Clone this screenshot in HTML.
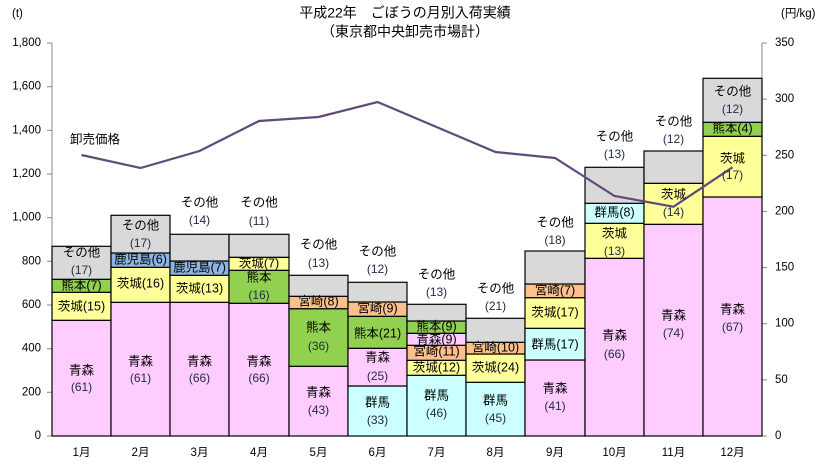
<!DOCTYPE html>
<html><head><meta charset="utf-8"><style>
body{margin:0;background:#fff}
svg text{font-family:"Liberation Sans","Noto Sans CJK JP",sans-serif;fill:#000}
.t{font-size:12.5px;text-anchor:middle;dominant-baseline:middle}
.n{font-size:12px;text-anchor:middle;dominant-baseline:middle;fill:#1f2a44}
.ax{font-size:11.5px;dominant-baseline:middle}
</style></head><body>
<svg width="818" height="462" xmlns="http://www.w3.org/2000/svg">
<text x="405" y="14" class="t" style="font-size:14px">平成22年　ごぼうの月別入荷実績</text>
<text x="405" y="33" class="t" style="font-size:14px">（東京都中央卸売市場計）</text>
<text x="12" y="14" class="ax">(t)</text>
<text x="781" y="14" class="ax">(円/kg)</text>
<g stroke="#888" stroke-width="1">
<line x1="52" y1="43" x2="52" y2="436"/><line x1="762" y1="43" x2="762" y2="436"/>
<line x1="52" y1="436" x2="762" y2="436"/>
<line x1="47" y1="43" x2="52" y2="43"/><line x1="47" y1="86.7" x2="52" y2="86.7"/><line x1="47" y1="130.3" x2="52" y2="130.3"/><line x1="47" y1="174" x2="52" y2="174"/><line x1="47" y1="217.7" x2="52" y2="217.7"/><line x1="47" y1="261.3" x2="52" y2="261.3"/><line x1="47" y1="305" x2="52" y2="305"/><line x1="47" y1="348.7" x2="52" y2="348.7"/><line x1="47" y1="392.3" x2="52" y2="392.3"/><line x1="47" y1="436" x2="52" y2="436"/>
<line x1="762" y1="43" x2="767" y2="43"/><line x1="762" y1="99.1" x2="767" y2="99.1"/><line x1="762" y1="155.3" x2="767" y2="155.3"/><line x1="762" y1="211.4" x2="767" y2="211.4"/><line x1="762" y1="267.6" x2="767" y2="267.6"/><line x1="762" y1="323.7" x2="767" y2="323.7"/><line x1="762" y1="379.9" x2="767" y2="379.9"/><line x1="762" y1="436" x2="767" y2="436"/>
</g>
<g class="ax" text-anchor="end">
<text x="41" y="43">1,800</text><text x="41" y="86.7">1,600</text><text x="41" y="130.3">1,400</text><text x="41" y="174">1,200</text><text x="41" y="217.7">1,000</text><text x="41" y="261.3">800</text><text x="41" y="305">600</text><text x="41" y="348.7">400</text><text x="41" y="392.3">200</text><text x="41" y="436">0</text>
</g>
<g class="ax">
<text x="775" y="43">350</text><text x="775" y="99.1">300</text><text x="775" y="155.3">250</text><text x="775" y="211.4">200</text><text x="775" y="267.6">150</text><text x="775" y="323.7">100</text><text x="775" y="379.9">50</text><text x="775" y="436">0</text>
</g>
<g stroke="#000" stroke-width="1.2">
<rect x="52" y="320.3" width="59" height="115.7" fill="#FFCCFF"/>
<rect x="52" y="292.3" width="59" height="28" fill="#FFFF99"/>
<rect x="52" y="279.3" width="59" height="13" fill="#92D050"/>
<rect x="52" y="246.3" width="59" height="33" fill="#D9D9D9"/>
<rect x="111" y="302.3" width="59" height="133.7" fill="#FFCCFF"/>
<rect x="111" y="267.3" width="59" height="35" fill="#FFFF99"/>
<rect x="111" y="253" width="59" height="14.3" fill="#8DB4E2"/>
<rect x="111" y="215.3" width="59" height="37.7" fill="#D9D9D9"/>
<rect x="170" y="302.3" width="59" height="133.7" fill="#FFCCFF"/>
<rect x="170" y="275.3" width="59" height="27" fill="#FFFF99"/>
<rect x="170" y="261" width="59" height="14.3" fill="#8DB4E2"/>
<rect x="170" y="234.3" width="59" height="26.7" fill="#D9D9D9"/>
<rect x="229" y="303.3" width="60" height="132.7" fill="#FFCCFF"/>
<rect x="229" y="270.3" width="60" height="33" fill="#92D050"/>
<rect x="229" y="257.3" width="60" height="13" fill="#FFFF99"/>
<rect x="229" y="234.3" width="60" height="23" fill="#D9D9D9"/>
<rect x="289" y="366.3" width="59" height="69.7" fill="#FFCCFF"/>
<rect x="289" y="308.7" width="59" height="57.6" fill="#92D050"/>
<rect x="289" y="296.3" width="59" height="12.4" fill="#FCC08C"/>
<rect x="289" y="275.3" width="59" height="21" fill="#D9D9D9"/>
<rect x="348" y="386" width="59" height="50" fill="#CCFFFF"/>
<rect x="348" y="348.3" width="59" height="37.7" fill="#FFCCFF"/>
<rect x="348" y="316.3" width="59" height="32" fill="#92D050"/>
<rect x="348" y="302" width="59" height="14.3" fill="#FCC08C"/>
<rect x="348" y="282.3" width="59" height="19.7" fill="#D9D9D9"/>
<rect x="407" y="375.3" width="59" height="60.7" fill="#CCFFFF"/>
<rect x="407" y="360.3" width="59" height="15" fill="#FFFF99"/>
<rect x="407" y="345.3" width="59" height="15" fill="#FCC08C"/>
<rect x="407" y="333.3" width="59" height="12" fill="#FFCCFF"/>
<rect x="407" y="321" width="59" height="12.3" fill="#92D050"/>
<rect x="407" y="304.3" width="59" height="16.7" fill="#D9D9D9"/>
<rect x="466" y="382.3" width="59" height="53.7" fill="#CCFFFF"/>
<rect x="466" y="354" width="59" height="28.3" fill="#FFFF99"/>
<rect x="466" y="342.3" width="59" height="11.7" fill="#FCC08C"/>
<rect x="466" y="318.3" width="59" height="24" fill="#D9D9D9"/>
<rect x="525" y="360" width="60" height="76" fill="#FFCCFF"/>
<rect x="525" y="328.3" width="60" height="31.7" fill="#CCFFFF"/>
<rect x="525" y="297.7" width="60" height="30.6" fill="#FFFF99"/>
<rect x="525" y="284" width="60" height="13.7" fill="#FCC08C"/>
<rect x="525" y="251" width="60" height="33" fill="#D9D9D9"/>
<rect x="585" y="258.3" width="59" height="177.7" fill="#FFCCFF"/>
<rect x="585" y="223.3" width="59" height="35" fill="#FFFF99"/>
<rect x="585" y="203.3" width="59" height="20" fill="#CCFFFF"/>
<rect x="585" y="167.3" width="59" height="36" fill="#D9D9D9"/>
<rect x="644" y="224.3" width="59" height="211.7" fill="#FFCCFF"/>
<rect x="644" y="183.3" width="59" height="41" fill="#FFFF99"/>
<rect x="644" y="151" width="59" height="32.3" fill="#D9D9D9"/>
<rect x="703" y="197" width="59" height="239" fill="#FFCCFF"/>
<rect x="703" y="136.3" width="59" height="60.7" fill="#FFFF99"/>
<rect x="703" y="122.3" width="59" height="14" fill="#92D050"/>
<rect x="703" y="78.3" width="59" height="44" fill="#D9D9D9"/>
</g>
<polyline fill="none" stroke="#604A7B" stroke-width="2.2" points="81.5,155 140.5,168 199.5,151 259,121 318.5,117 377.5,102 436.5,127 495.5,152 555,158 614.5,196 673.5,206.7 732.5,167.3"/>
<text x="95" y="140" class="t">卸売価格</text>
<g class="t">
<text x="81.5" y="253">その他</text><text x="81.5" y="271" class="n">(17)</text><text x="81.5" y="286">熊本(7)</text><text x="81.5" y="307">茨城(15)</text><text x="81.5" y="371">青森</text><text x="81.5" y="388" class="n">(61)</text>
<text x="140.5" y="226">その他</text><text x="140.5" y="244" class="n">(17)</text><text x="140.5" y="260">鹿児島(6)</text><text x="140.5" y="284">茨城(16)</text><text x="140.5" y="362">青森</text><text x="140.5" y="379" class="n">(61)</text>
<text x="199.5" y="203">その他</text><text x="199.5" y="221" class="n">(14)</text><text x="199.5" y="268">鹿児島(7)</text><text x="199.5" y="289">茨城(13)</text><text x="199.5" y="362">青森</text><text x="199.5" y="379" class="n">(66)</text>
<text x="259" y="203">その他</text><text x="259" y="222" class="n">(11)</text><text x="259" y="264">茨城(7)</text><text x="259" y="278">熊本</text><text x="259" y="296" class="n">(16)</text><text x="259" y="362">青森</text><text x="259" y="379" class="n">(66)</text>
<text x="318.5" y="245">その他</text><text x="318.5" y="264" class="n">(13)</text><text x="318.5" y="302">宮崎(8)</text><text x="318.5" y="328">熊本</text><text x="318.5" y="347" class="n">(36)</text><text x="318.5" y="393">青森</text><text x="318.5" y="411" class="n">(43)</text>
<text x="377.5" y="252">その他</text><text x="377.5" y="270" class="n">(12)</text><text x="377.5" y="309">宮崎(9)</text><text x="377.5" y="334">熊本(21)</text><text x="377.5" y="358">青森</text><text x="377.5" y="377" class="n">(25)</text><text x="377.5" y="403">群馬</text><text x="377.5" y="421" class="n">(33)</text>
<text x="436.5" y="275">その他</text><text x="436.5" y="293" class="n">(13)</text><text x="436.5" y="327">熊本(9)</text><text x="436.5" y="340">青森(9)</text><text x="436.5" y="352">宮崎(11)</text><text x="436.5" y="368">茨城(12)</text><text x="436.5" y="396">群馬</text><text x="436.5" y="414" class="n">(46)</text>
<text x="495.5" y="289">その他</text><text x="495.5" y="307" class="n">(21)</text><text x="495.5" y="348">宮崎(10)</text><text x="495.5" y="368">茨城(24)</text><text x="495.5" y="401">群馬</text><text x="495.5" y="419" class="n">(45)</text>
<text x="555" y="223">その他</text><text x="555" y="241" class="n">(18)</text><text x="555" y="291">宮崎(7)</text><text x="555" y="313">茨城(17)</text><text x="555" y="345">群馬(17)</text><text x="555" y="389">青森</text><text x="555" y="407" class="n">(41)</text>
<text x="614.5" y="137">その他</text><text x="614.5" y="155" class="n">(13)</text><text x="614.5" y="213">群馬(8)</text><text x="614.5" y="234">茨城</text><text x="614.5" y="252" class="n">(13)</text><text x="614.5" y="336">青森</text><text x="614.5" y="355" class="n">(66)</text>
<text x="673.5" y="122">その他</text><text x="673.5" y="140" class="n">(12)</text><text x="673.5" y="195">茨城</text><text x="673.5" y="213" class="n">(14)</text><text x="673.5" y="316">青森</text><text x="673.5" y="334" class="n">(74)</text>
<text x="732.5" y="92">その他</text><text x="732.5" y="110" class="n">(12)</text><text x="732.5" y="129">熊本(4)</text><text x="732.5" y="159">茨城</text><text x="732.5" y="176" class="n">(17)</text><text x="732.5" y="310">青森</text><text x="732.5" y="328" class="n">(67)</text>
</g>
<g class="t" style="font-size:11.5px">
<text x="81.5" y="453">1月</text><text x="140.5" y="453">2月</text><text x="199.5" y="453">3月</text><text x="259" y="453">4月</text><text x="318.5" y="453">5月</text><text x="377.5" y="453">6月</text><text x="436.5" y="453">7月</text><text x="495.5" y="453">8月</text><text x="555" y="453">9月</text><text x="614.5" y="453">10月</text><text x="673.5" y="453">11月</text><text x="732.5" y="453">12月</text>
</g>
</svg>
</body></html>
